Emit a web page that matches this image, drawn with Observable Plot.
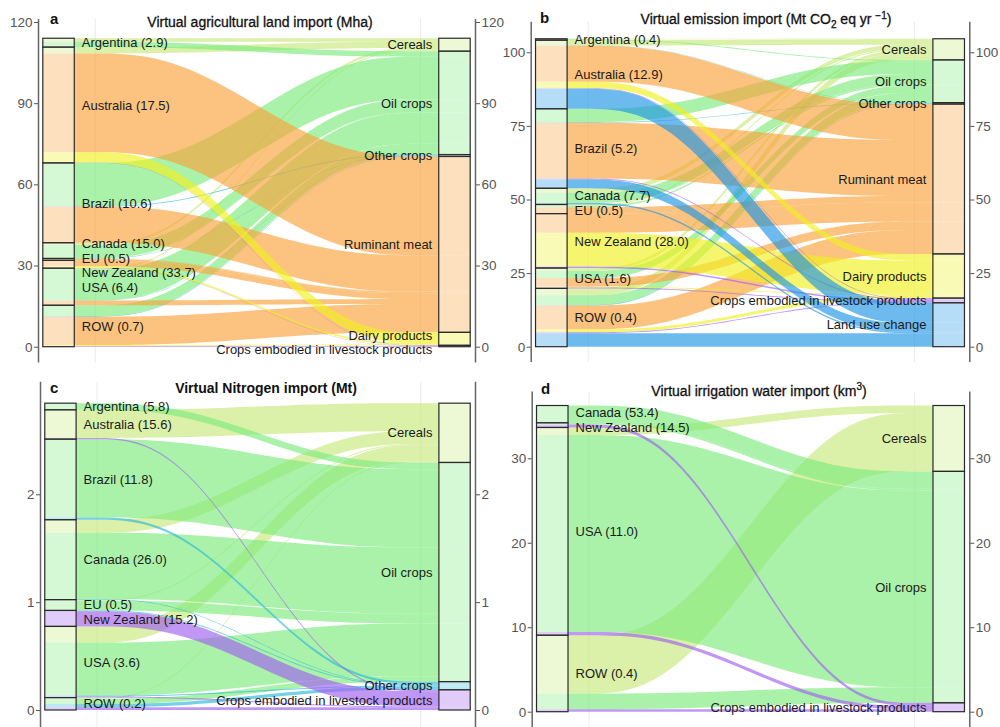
<!DOCTYPE html>
<html><head><meta charset="utf-8">
<script src="https://cdn.jsdelivr.net/npm/d3@7"></script>
<script src="https://cdn.jsdelivr.net/npm/@observablehq/plot@0.6"></script>
<style>
body{margin:0;background:#fff;font-family:"Liberation Sans",Arial,sans-serif;}
#wrap{position:relative;width:1000px;height:727px;overflow:hidden;background:#fff;}
.panel{position:absolute;}
.title{position:absolute;font-size:14px;color:#111;white-space:nowrap;transform:translate(-50%,-50%);-webkit-text-stroke:0.3px #111;}
.title.bold{font-weight:bold;-webkit-text-stroke:0;}
.letter{position:absolute;font-size:15px;font-weight:bold;color:#111;transform:translate(0,-50%);}
sub,sup{font-size:10px;}
</style></head><body><div id="wrap"></div>
<script>
// ---------------- DATA ----------------
// Panel a: virtual agricultural land (Mha)
const landCountries = ["Argentina","Australia","Brazil","Canada","EU","New Zealand","USA","ROW"];
const landShares = [2.9,17.5,10.6,15.0,0.5,33.7,6.4,0.7];
const landProducts = ["Cereals","Oil crops","Other crops","Ruminant meat","Dairy products","Crops embodied in livestock products"];
const landFlows = [
  [1.3, 2.0, 0,   0,    0,   0  ],
  [2.3, 0,   0,   36.5, 3.9, 0.1],
  [0,   15.8,0.3, 13.4, 0,   0  ],
  [0.8, 4.8, 0.1, 0.1,  0,   0  ],
  [0,   0.2, 0,   0.5,  0,   0  ],
  [0,   0,   0,   2.2,  0.6, 0.1],
  [0.4, 11.4,0.1, 1.8,  0,   0  ],
  [0,   4.0, 0.2, 10.5, 0.3, 0.3]
];
const landTicks = [0,30,60,90,120];

// Panel b: virtual emissions (Mt CO2eq/yr)
const emisCountries = ["Argentina","Australia","Brazil","Canada","EU","New Zealand","USA","ROW"];
const emisShares = [0.4,12.9,5.2,7.7,0.5,28.0,1.6,0.4];
const emisProducts = ["Cereals","Oil crops","Other crops","Ruminant meat","Dairy products","Crops embodied in livestock products","Land use change"];
const emisFlows = [
  [0.2, 0.3, 0,   0,    0,    0,   0  ],
  [1.8, 0,   0.1, 12.2, 2.2,  0.2, 6.8],
  [0,   4.5, 0.2, 19.0, 0,    0.3, 3.0],
  [1.5, 3.5, 0,   0,    0,    0,   0.5],
  [0.4, 0.5, 0,   2.2,  0,    0,   0  ],
  [0,   0,   0,   6.5,  11.5, 0.5, 0  ],
  [1.0, 2.4, 0,   2.9,  0.3,  0.3, 0  ],
  [2.3, 3.3, 0.2, 8.1,  1.0,  0.3, 4.6]
];
const emisTicks = [0,25,50,75,100];

// Panel c: virtual nitrogen (Mt)
const nitroCountries = ["Argentina","Australia","Brazil","Canada","EU","New Zealand","USA","ROW"];
const nitroShares = [5.8,15.6,11.8,26.0,0.5,15.2,3.6,0.2];
const nitroProducts = ["Cereals","Oil crops","Other crops","Crops embodied in livestock products"];
const nitroFlows = [
  [0,    0.062, 0,     0    ],
  [0.26, 0,     0,     0.012],
  [0,    0.725, 0.022, 0    ],
  [0.12, 0.615, 0.006, 0    ],
  [0.01, 0.09,  0,     0    ],
  [0,    0,     0.008, 0.14 ],
  [0.15, 0.49,  0.01,  0.01 ],
  [0.01, 0.05,  0.03,  0.025]
];
const nitroTicks = [0,1,2];

// Panel d: virtual irrigation water (km3)
const waterCountries = ["Canada","New Zealand","USA","ROW"];
const waterShares = [53.4,14.5,11.0,0.4];
const waterProducts = ["Cereals","Oil crops","Crops embodied in livestock products"];
const waterFlows = [
  [0,   2.05, 0   ],
  [0,   0.2,  0.35],
  [0.9, 23.3, 0.4 ],
  [6.9, 1.85, 0.3 ]
];
const waterTicks = [0,10,20,30];

// ---------------- STYLE ----------------
const productColors = {
  "Cereals":"#c8e87a",
  "Oil crops":"#7deb7d",
  "Other crops":"#2bb8d8",
  "Ruminant meat":"#f9a33a",
  "Dairy products":"#f0f020",
  "Crops embodied in livestock products":"#a060f0",
  "Land use change":"#1f95e6"
};
const BX = {l0:0.011, l1:0.083, r0:0.917, r1:0.989};

function repel(ys, gap){
  const idx = ys.map((y,i)=>i).sort((a,b)=>ys[a]-ys[b]);
  const p = idx.map(i=>ys[i]);
  for(let it=0; it<400; it++){
    let moved=false;
    for(let k=0;k<p.length-1;k++){
      const d=p[k+1]-p[k];
      if(d<gap-1e-6){const s=(gap-d)/2;p[k]-=s;p[k+1]+=s;moved=true;}
    }
    if(!moved)break;
  }
  const out=new Array(ys.length);
  idx.forEach((i,k)=>out[i]=p[k]);
  return out;
}

function ease(t){
  const u=Math.max(0,Math.min(1,(t-0.05)/0.9));
  return u*u*u*(u*(u*6-15)+10);
}

function makePanel(cfg){
  const {countries, shares, products, flows, ticks, domain, width, height,
         marginLeft, marginRight, marginTop, marginBottom, axisTop, axisBottom} = cfg;
  const total = d3.sum(flows.flat());
  const cTot = flows.map(r=>d3.sum(r));
  const pTot = products.map((p,j)=>d3.sum(flows,r=>r[j]));
  const leftBoxes=[], rightBoxes=[];
  let y=total;
  const lpos = flows.map((row,i)=>{
    const top=y; leftBoxes.push({y1:top-cTot[i], y2:top, label:`${countries[i]} (${shares[i].toFixed(1)})`});
    let yy=top;
    const r=row.map(v=>{const a={t:yy,b:yy-v};yy-=v;return a;});
    y-=cTot[i]; return r;
  });
  y=total;
  const rpos = products.map((p,j)=>{
    const top=y; rightBoxes.push({y1:top-pTot[j], y2:top, label:p});
    let yy=top;
    const r=flows.map(row=>{const v=row[j];const a={t:yy,b:yy-v};yy-=v;return a;});
    y-=pTot[j]; return r;
  });
  const pts=[];
  const N=48;
  products.forEach((p,j)=>{
    countries.forEach((c,i)=>{
      const v=flows[i][j]; if(!(v>0))return;
      const L=lpos[i][j], R=rpos[j][i], id=`${i}-${j}`;
      pts.push({id,product:p,x:BX.l0,y1:L.b,y2:L.t});
      for(let k=0;k<=N;k++){
        const t=k/N, s=ease(t);
        pts.push({id,product:p,x:BX.l1+(BX.r0-BX.l1)*t,y1:L.b+(R.b-L.b)*s,y2:L.t+(R.t-L.t)*s});
      }
      pts.push({id,product:p,x:BX.r1,y1:R.b,y2:R.t});
    });
  });
  const ys = d3.scaleLinear(domain,[height-marginBottom, marginTop]);
  const gap=14.5;
  const lpx = repel(leftBoxes.map(b=>ys((b.y1+b.y2)/2)),gap);
  const rpx = repel(rightBoxes.map(b=>ys((b.y1+b.y2)/2)),gap);
  const leftLabels = leftBoxes.map((b,i)=>({label:b.label,y:ys.invert(lpx[i])}));
  const rightLabels = rightBoxes.map((b,i)=>({label:b.label,y:ys.invert(rpx[i])}));
  const fmt = d=>String(d);

  return Plot.plot({
    width, height, marginLeft, marginRight, marginTop, marginBottom,
    style:{fontSize:"12px",fontFamily:"Liberation Sans, Arial, sans-serif",background:"transparent",overflow:"visible"},
    x:{domain:[0,1],axis:null},
    y:{domain,axis:null},
    color:{domain:products,range:products.map(p=>productColors[p])},
    marks:[
      Plot.ruleX([0.13,0.874],{y1:axisBottom,y2:axisTop,stroke:"#ebebeb",strokeWidth:1}),
      Plot.areaY(pts,{x:"x",y1:"y1",y2:"y2",z:"id",fill:"product",fillOpacity:0.65,curve:"linear"}),
      Plot.rect(leftBoxes,{x1:BX.l0,x2:BX.l1,y1:"y1",y2:"y2",fill:"white",fillOpacity:0.5,stroke:"#2a2a2a",strokeWidth:1.2}),
      Plot.rect(rightBoxes,{x1:BX.r0,x2:BX.r1,y1:"y1",y2:"y2",fill:"white",fillOpacity:0.5,stroke:"#2a2a2a",strokeWidth:1.2}),
      Plot.ruleX([0,1],{y1:axisBottom,y2:axisTop,stroke:"#666",strokeWidth:1.5}),
      Plot.axisY({anchor:"left",ticks,tickFormat:fmt,tickSize:4,tickPadding:2,color:"#555",fontSize:13.5}),
      Plot.axisY({anchor:"right",ticks,tickFormat:fmt,tickSize:4,tickPadding:2,color:"#555",fontSize:13.5}),
      Plot.text(leftLabels,{x:BX.l1,y:"y",text:"label",textAnchor:"start",dx:7,fill:"#1a1a1a",fontSize:13}),
      Plot.text(rightLabels,{x:BX.r0,y:"y",text:"label",textAnchor:"end",dx:-7,fill:"#1a1a1a",fontSize:13})
    ]
  });
}

const wrap=document.getElementById("wrap");
function place(el,left,top){const d=document.createElement("div");d.className="panel";d.style.left=left+"px";d.style.top=top+"px";d.appendChild(el);wrap.appendChild(d);}
function addText(cls,html,left,top){const d=document.createElement("div");d.className=cls;d.innerHTML=html;d.style.left=left+"px";d.style.top=top+"px";wrap.appendChild(d);}

place(makePanel({countries:landCountries,shares:landShares,products:landProducts,flows:landFlows,ticks:landTicks,
  domain:[0,120],width:500,height:365,marginLeft:38,marginRight:25,marginTop:22,marginBottom:18.3,axisTop:121.1,axisBottom:-5.8}),0,0);
place(makePanel({countries:emisCountries,shares:emisShares,products:emisProducts,flows:emisFlows,ticks:emisTicks,
  domain:[0,100],width:500,height:365,marginLeft:30.7,marginRight:30.7,marginTop:52.3,marginBottom:18.3,axisTop:110.4,axisBottom:-5.2}),500,0);
place(makePanel({countries:nitroCountries,shares:nitroShares,products:nitroProducts,flows:nitroFlows,ticks:nitroTicks,
  domain:[0,3],width:500,height:362,marginLeft:40,marginRight:25,marginTop:21.45,marginBottom:17,axisTop:3.044,axisBottom:-0.16}),0,365);
place(makePanel({countries:waterCountries,shares:waterShares,products:waterProducts,flows:waterFlows,ticks:waterTicks,
  domain:[0,30],width:500,height:362,marginLeft:31.7,marginRight:30.7,marginTop:93.3,marginBottom:15.3,axisTop:37.9,axisBottom:-1.8}),500,365);

addText("title","Virtual agricultural land import (Mha)",260,22);
addText("title","Virtual emission import (Mt CO<sub>2</sub> eq yr <sup>&minus;1</sup>)",766,20);
addText("title bold","Virtual Nitrogen import (Mt)",266,388);
addText("title","Virtual irrigation water import (km<sup>3</sup>)",759,390);
addText("letter","a",50,18);
addText("letter","b",540,17);
addText("letter","c",50,387);
addText("letter","d",541,388);
</script></body></html>
